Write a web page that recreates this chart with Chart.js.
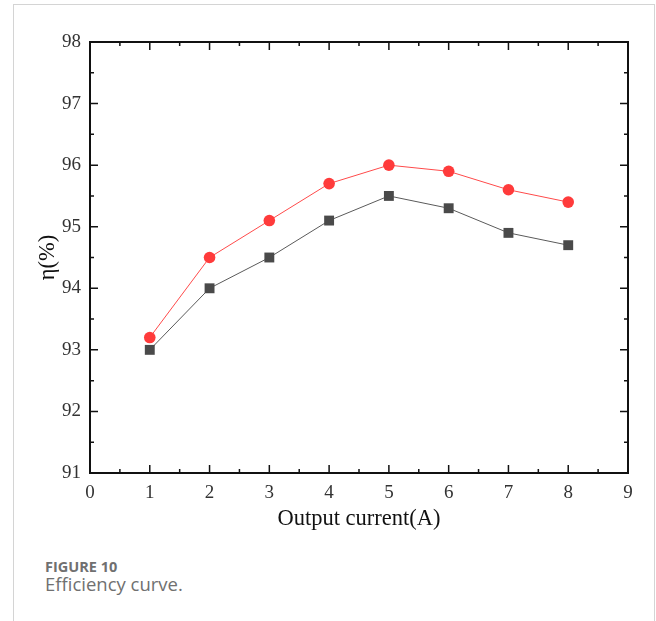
<!DOCTYPE html>
<html><head><meta charset="utf-8">
<script src="https://cdn.jsdelivr.net/npm/chart.js@4/dist/chart.umd.min.js"></script>
<style>
html,body{margin:0;padding:0;background:#fff;}
#wrap{position:relative;width:656px;height:621px;overflow:hidden;}
#frame{position:absolute;left:13px;top:4px;width:640px;height:640px;border-left:1.5px solid #d4d4d4;border-top:1.5px solid #d4d4d4;border-right:1.5px solid #d4d4d4;}
#cv{position:absolute;left:0;top:0;}
#cap1{position:absolute;left:45px;top:557px;font-family:"Open Sans",sans-serif;font-weight:700;font-size:14.5px;color:#707070;}
#cap2{position:absolute;left:45px;top:571px;font-family:"Open Sans",sans-serif;font-size:18.5px;color:#707070;}
</style></head>
<body><div id="wrap"><div id="frame"></div>
<canvas id="cv" width="656" height="540"></canvas>
<div id="cap1">FIGURE 10</div>
<div id="cap2">Efficiency curve.</div></div>
<script>
const currents = [1,2,3,4,5,6,7,8];
const seriesBlack = [93.0,94.0,94.5,95.1,95.5,95.3,94.9,94.7];
const seriesRed = [93.2,94.5,95.1,95.7,96.0,95.9,95.6,95.4];
const xTicksRange = [0,9];
const yTicksRange = [91,98];

Chart.defaults.font.family = 'Liberation Serif';
Chart.defaults.font.size = 18;
const boxPlugin = {
  id:'box',
  afterDatasetsDraw(chart){
    const {ctx, chartArea:a, scales:{x,y}} = chart;
    ctx.save();
    ctx.strokeStyle='#111'; ctx.lineWidth=1.5;
    ctx.beginPath();
    for(let v=xTicksRange[0]; v<=xTicksRange[1]+1e-9; v+=0.5){
      const px=x.getPixelForValue(v); const len=(Math.abs(v-Math.round(v))<1e-9)?8:4;
      ctx.moveTo(px,a.bottom); ctx.lineTo(px,a.bottom-len);
      ctx.moveTo(px,a.top); ctx.lineTo(px,a.top+len);
    }
    for(let v=yTicksRange[0]; v<=yTicksRange[1]+1e-9; v+=0.5){
      const py=y.getPixelForValue(v); const len=(Math.abs(v-Math.round(v))<1e-9)?8:4;
      ctx.moveTo(a.left,py); ctx.lineTo(a.left+len,py);
      ctx.moveTo(a.right,py); ctx.lineTo(a.right-len,py);
    }
    ctx.stroke();
    ctx.lineWidth=2;
    ctx.strokeRect(a.left,a.top,a.right-a.left,a.bottom-a.top);
    ctx.restore();
  }
};

new Chart(document.getElementById('cv'),{
  type:'line',
  data:{datasets:[
    {data:currents.map((c,i)=>({x:c,y:seriesBlack[i]})),borderColor:'#5a5a5a',borderWidth:1,
     pointStyle:'rect',pointRadius:7,pointBackgroundColor:'#4a4a4a',pointBorderWidth:0,tension:0},
    {data:currents.map((c,i)=>({x:c,y:seriesRed[i]})),borderColor:'#ff4a4a',borderWidth:1,
     pointStyle:'circle',pointRadius:5.8,pointBackgroundColor:'#ff3b3b',pointBorderWidth:0,tension:0}
  ]},
  options:{
    responsive:false,animation:false,
    layout:{padding:{top:42,right:28,left:0,bottom:0}},
    plugins:{legend:{display:false},tooltip:{enabled:false}},
    scales:{
      x:{type:'linear',min:xTicksRange[0],max:xTicksRange[1],
        afterFit(s){s.height=67;},
        grid:{display:false,drawTicks:false},border:{display:false},
        ticks:{stepSize:1,font:{family:'Liberation Serif',size:19},color:'#333',padding:9,maxRotation:0},
        title:{display:true,text:'Output current(A)',font:{family:'Liberation Serif',size:22.5},color:'#111',padding:{top:0,bottom:7}}},
      y:{type:'linear',min:yTicksRange[0],max:yTicksRange[1],
        afterFit(s){s.width=90;},
        grid:{display:false,drawTicks:false},border:{display:false},
        ticks:{stepSize:1,font:{family:'Liberation Serif',size:19},color:'#333',padding:9},
        title:{display:true,text:'η(%)',font:{family:'Liberation Serif',size:22.5},color:'#111',padding:{top:35,bottom:0}}}
    }
  },
  plugins:[boxPlugin]
});
</script></body></html>
